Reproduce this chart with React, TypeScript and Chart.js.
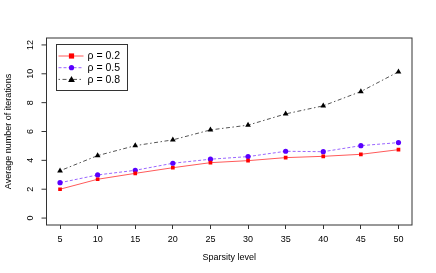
import React, { useEffect, useRef } from "react";
import { Chart, registerables } from "chart.js";

Chart.register(...registerables);

const sparsity = [5, 10, 15, 20, 25, 30, 35, 40, 45, 50];
const rho02 = [2.0, 2.69, 3.1, 3.49, 3.84, 3.98, 4.19, 4.28, 4.42, 4.74];
const rho05 = [2.45, 2.99, 3.31, 3.8, 4.08, 4.26, 4.63, 4.6, 5.02, 5.23];
const rho08 = [3.28, 4.33, 5.02, 5.42, 6.11, 6.44, 7.22, 7.78, 8.77, 10.14];
const seriesLabels = ["ρ = 0.2", "ρ = 0.5", "ρ = 0.8"];
const yTicks = [0, 2, 4, 6, 8, 10, 12];

const FONT = "'Liberation Sans', Arial, sans-serif";

const colors = {
  red: { line: "#ff5a5a", pt: "#ff0000" },
  blue: { line: "#9a66ff", pt: "#5a00ff" },
  black: { line: "#555555", pt: "#000000" },
};

export default function App() {
  const ref = useRef<HTMLCanvasElement>(null);
  useEffect(() => {
    document.body.style.margin = "0";
    const ctx = ref.current!;
    const styles = [
      { c: colors.red, dash: [] as number[], pt: "rect", r: 2.6 },
      { c: colors.blue, dash: [3, 2], pt: "circle", r: 2.6 },
      { c: colors.black, dash: [1.5, 2.5, 4, 2.5], pt: "triangle", r: 3.3 },
    ];
    const dataSets = [rho02, rho05, rho08];
    const frame = {
      id: "frame",
      afterDraw(chart: any) {
        const { ctx: g, chartArea: a, scales } = chart;
        g.save();
        g.strokeStyle = "#333";
        g.lineWidth = 1;
        g.strokeRect(a.left, a.top, a.right - a.left, a.bottom - a.top);
        const ys = scales.y;
        g.fillStyle = "#000";
        g.font = `9px ${FONT}`;
        g.textAlign = "center";
        g.textBaseline = "middle";
        for (const t of yTicks) {
          const py = ys.getPixelForValue(t);
          g.beginPath();
          g.moveTo(a.left, py);
          g.lineTo(a.left - 5, py);
          g.stroke();
          g.save();
          g.translate(30.5, py);
          g.rotate(-Math.PI / 2);
          g.fillText(String(t), 0, 0);
          g.restore();
        }
        const lx = 56.5, ly = 44.5, lw = 71, lh = 46;
        g.fillStyle = "#fff";
        g.fillRect(lx, ly, lw, lh);
        g.strokeStyle = "#333";
        g.strokeRect(lx, ly, lw, lh);
        styles.forEach((s, i) => {
          const yy = 56 + i * 11.7;
          g.strokeStyle = s.c.line;
          g.lineWidth = 1;
          g.setLineDash(s.dash);
          g.beginPath();
          g.moveTo(lx + 2, yy);
          g.lineTo(lx + 27, yy);
          g.stroke();
          g.setLineDash([]);
          g.fillStyle = s.c.pt;
          const cx = lx + 15;
          g.beginPath();
          if (s.pt === "rect") g.rect(cx - 2.6, yy - 2.6, 5.2, 5.2);
          else if (s.pt === "circle") g.arc(cx, yy, 2.6, 0, Math.PI * 2);
          else {
            g.moveTo(cx, yy - 3.4);
            g.lineTo(cx + 3.4, yy + 2.6);
            g.lineTo(cx - 3.4, yy + 2.6);
            g.closePath();
          }
          g.fill();
          g.fillStyle = "#000";
          g.font = `10.5px ${FONT}`;
          g.textAlign = "left";
          g.fillText(seriesLabels[i], lx + 31, yy + 0.5);
        });
        g.restore();
      },
    };
    const chart = new Chart(ctx, {
      type: "line",
      data: {
        datasets: dataSets.map((d, i) => ({
          label: seriesLabels[i],
          data: d.map((v, j) => ({ x: sparsity[j], y: v })),
          borderColor: styles[i].c.line,
          backgroundColor: styles[i].c.pt,
          pointBackgroundColor: styles[i].c.pt,
          pointBorderColor: styles[i].c.pt,
          pointBorderWidth: 0,
          pointStyle: styles[i].pt as any,
          pointRadius: styles[i].r,
          borderWidth: 1,
          borderDash: styles[i].dash,
          tension: 0,
        })),
      },
      options: {
        animation: false,
        responsive: false,
        events: [],
        layout: { padding: { left: 0, top: 38, right: 24, bottom: 0 } },
        plugins: { legend: { display: false }, tooltip: { enabled: false } },
        scales: {
          x: {
            type: "linear",
            min: 3.2,
            max: 51.8,
            afterFit: (s: any) => { s.height = 48; },
            afterBuildTicks: (s: any) => { s.ticks = sparsity.map((v) => ({ value: v })); },
            border: { display: false },
            grid: { drawOnChartArea: false, tickLength: 4, color: "#333" },
            ticks: {
              font: { family: FONT, size: 9 },
              color: "#000",
              padding: 5,
              maxRotation: 0,
              autoSkip: false,
            },
            title: {
              display: true,
              text: "Sparsity level",
              font: { family: FONT, size: 9 },
              color: "#000",
              padding: { top: 0, bottom: 10 },
            },
          },
          y: {
            min: -0.48,
            max: 12.48,
            afterFit: (s: any) => { s.width = 46.5; },
            afterBuildTicks: (s: any) => { s.ticks = yTicks.map((v) => ({ value: v })); },
            border: { display: false },
            grid: { display: false },
            ticks: { display: false },
            title: {
              display: true,
              text: "Average number of iterations",
              font: { family: FONT, size: 9 },
              color: "#000",
              padding: { top: 3, bottom: 0 },
            },
          },
        },
      },
      plugins: [frame],
    });
    return () => chart.destroy();
  }, []);
  return (
    <div style={{ position: "absolute", left: 0, top: 0, width: 436, height: 273 }}>
      <canvas ref={ref} width={436} height={273} />
    </div>
  );
}
